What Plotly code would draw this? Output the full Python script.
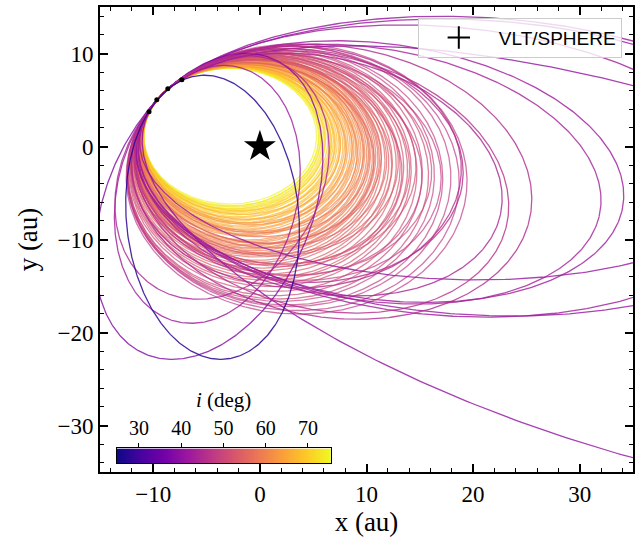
import numpy as np
import plotly.graph_objects as go
from plotly.colors import sample_colorscale

# ---- data ----
obs_x = [-10.4, -9.67, -8.64, -7.32]
obs_y = [3.75, 5.04, 6.22, 7.18]
obs_err = [0.12, 0.12, 0.12, 0.12]

# projected orbit ellipses: semi-axes a, b (au), orientation theta (deg), inclination (deg)
# large / eccentric orbits
big_a = [30.0, 29.0, 32.0, 50.0, 23.0, 22.0, 17.5, 15.5, 15.5, 17.0, 14.0, 13.5, 19.0, 18.0]
big_b = [14.0, 15.5, 16.0, 19.0, 13.7, 13.5, 12.5, 13.0, 12.5, 9.8, 8.5, 9.5, 14.5, 13.5]
big_th = [-2, -6, -4, -20, -10, -12, -18, -3, -8, 72, 80, 70, -14, -20]
big_inc = [41, 42, 41, 40, 42, 43, 44, 46, 46, 38, 42, 44, 45, 46]
# main family of near-circular projected orbits
fam_a = [16.0, 15.6, 15.2, 14.8, 14.4, 14.1, 13.8, 13.5, 13.2,
         13.0, 12.8, 12.6, 12.4, 12.2, 12.0, 11.8, 11.6, 11.5, 11.4, 11.3, 11.2, 11.1, 11.0, 10.9, 10.8,
         10.7, 10.6, 10.5, 10.4, 10.3, 10.2, 10.1, 10.0, 9.9, 9.8, 9.7, 9.6, 9.5, 9.4, 9.3,
         9.2, 9.1, 9.0, 8.9, 8.8, 8.7, 8.6, 8.55, 8.5, 8.4, 8.35, 8.3, 8.25, 8.2, 8.1]
fam_b = [14.5, 14.2, 14.0, 13.8, 13.6, 13.4, 13.2, 12.9, 12.6,
         12.4, 12.2, 12.0, 11.8, 11.6, 11.4, 11.2, 11.0, 10.9, 10.7, 10.6, 10.5, 10.4, 10.3, 10.2, 10.1,
         10.0, 9.9, 9.8, 9.7, 9.6, 9.4, 9.3, 9.2, 9.1, 9.0, 8.9, 8.8, 8.7, 8.6, 8.5,
         8.4, 8.3, 8.2, 8.1, 8.0, 7.9, 7.8, 7.8, 7.7, 7.6, 7.6, 7.5, 7.45, 7.4, 7.3]
fam_th = [-5, -8, -3, -7, -2, -5, 0, -4, -1,
          -3, 0, -6, -2, 1, -3, 0, -5, -1, -2, 2, 0, -4, -1, 1, -2,
          0, -3, 1, -1, -2, 2, 0, -4, -1, 1, -2, 0, -3, 2, -1,
          0, -2, 1, -3, 0, -1, 2, -2, 0, -3, 1, -1, 2, -2, 0]
fam_inc = [47, 47, 48, 48, 49, 50, 50, 51, 51,
           52, 52, 53, 53, 54, 54, 55, 55, 56, 56, 57, 57, 58, 58, 59, 59,
           60, 60, 61, 61, 62, 62, 63, 63, 64, 64, 65, 65, 66, 66, 67,
           68, 68, 69, 69, 70, 70, 71, 71, 72, 72, 73, 73, 74, 74, 75]
# tilted, slightly flatter members of the family
tilt_a = [14.5, 14.0, 13.6, 13.2, 12.9, 12.6, 12.3, 12.0, 11.7, 11.4, 11.1, 10.8, 10.5, 10.2,
          9.9, 9.6, 9.3, 9.0, 8.8]
tilt_b = [12.0, 11.8, 11.6, 11.3, 11.0, 10.8, 10.6, 10.3, 10.0, 9.8, 9.6, 9.3, 9.1, 8.9,
          8.6, 8.4, 8.2, 7.9, 7.7]
tilt_th = [-15, -12, -18, -10, -14, -20, -11, -16, -13, -9, -17, -12, -10, -14,
           -8, -12, -10, -9, -7]
tilt_inc = [48, 50, 49, 51, 52, 50, 53, 54, 55, 56, 55, 57, 58, 60, 62, 63, 65, 67, 69]
# low-inclination outlier
low_a = [15.3]
low_b = [8.1]
low_th = [94]
low_inc = [28]

cmin, cmax = 24.7, 75.4
P0 = np.array([-9.15, 5.63])
d = np.array([0.658, 0.753]); d = d / np.linalg.norm(d)
n_in = np.array([d[1], -d[0]])

def ellipse(a, b, th_deg):
    th = np.radians(th_deg)
    R = np.array([[np.cos(th), -np.sin(th)], [np.sin(th), np.cos(th)]])
    dp = R.T @ d
    t0 = np.arctan2(-dp[0] / a, dp[1] / b)
    p = R @ np.array([a * np.cos(t0), b * np.sin(t0)])
    if p @ n_in > 0:
        p = -p
    c = P0 - p
    s = np.linspace(0, 2 * np.pi, 500)
    pts = R @ np.vstack([a * np.cos(s), b * np.sin(s)])
    return c[0] + pts[0], c[1] + pts[1]

fig = go.Figure()

def add_orbits(A, B, TH, INC, op):
    for a, b, th, inc in zip(A, B, TH, INC):
        x, y = ellipse(a, b, th)
        col = sample_colorscale('Plasma', [(inc - cmin) / (cmax - cmin)])[0]
        fig.add_trace(go.Scatter(x=x, y=y, mode='lines', line=dict(color=col, width=1.3),
                                 opacity=op, showlegend=False, hoverinfo='skip'))

# high-inclination (small) orbits first, so lower-inclination ones overlay them
add_orbits(fam_a[::-1], fam_b[::-1], fam_th[::-1], fam_inc[::-1], 0.68)
add_orbits(tilt_a[::-1], tilt_b[::-1], tilt_th[::-1], tilt_inc[::-1], 0.68)
add_orbits(big_a, big_b, big_th, big_inc, 0.8)
add_orbits(low_a, low_b, low_th, low_inc, 0.85)

# star
fig.add_trace(go.Scatter(x=[0], y=[0], mode='markers', showlegend=False,
                         marker=dict(symbol='star', size=24, color='black')))
# observations
fig.add_trace(go.Scatter(x=obs_x, y=obs_y, mode='markers', showlegend=False,
                         marker=dict(size=5, color='black'),
                         error_x=dict(array=obs_err, color='black', thickness=1, width=0),
                         error_y=dict(array=obs_err, color='black', thickness=1, width=0)))
fig.add_trace(go.Scatter(x=[None], y=[None], mode='markers', name='VLT/SPHERE',
                         marker=dict(symbol='cross-thin', size=22, color='black',
                                     line=dict(width=2, color='black'))))

# colour bar as an inset heatmap axis
cb_vals = np.linspace(cmin, cmax, 300)
fig.add_trace(go.Heatmap(x=cb_vals, y=[0], z=[cb_vals], colorscale='Plasma', zmin=cmin, zmax=cmax,
                         showscale=False, xaxis='x2', yaxis='y2', hoverinfo='skip'))

serif = 'Liberation Serif'
axis_common = dict(showline=True, linewidth=2, linecolor='black', mirror='ticks',
                   ticks='inside', ticklen=8, tickwidth=1.5, tickcolor='black',
                   showgrid=False, zeroline=False,
                   tickfont=dict(size=23, family=serif, color='black'),
                   minor=dict(ticks='inside', ticklen=4, tickwidth=1.2, dtick=2, tickcolor='black', showgrid=False))
fig.update_layout(
    xaxis=dict(range=[-15, 35], dtick=10, domain=[0, 1],
               title=dict(text='x (au)', font=dict(size=27, family=serif, color='black'), standoff=2),
               **axis_common),
    yaxis=dict(range=[-35, 15], dtick=10, domain=[0, 1],
               title=dict(text='y (au)', font=dict(size=27, family=serif, color='black'), standoff=12),
               **axis_common),
    xaxis2=dict(domain=[0.031, 0.433], anchor='y2', range=[cmin, cmax], side='top',
                tickvals=[30, 40, 50, 60, 70], ticks='outside', ticklen=4, tickwidth=1, tickcolor='black',
                showline=True, mirror=True, linewidth=1, linecolor='black', showgrid=False, zeroline=False,
                tickfont=dict(size=20, family=serif, color='black'),
                title=dict(text='<i>i</i> (deg)', font=dict(size=21, family=serif, color='black'), standoff=4)),
    yaxis2=dict(domain=[0.0186, 0.0507], anchor='x2', range=[-0.5, 0.5], showticklabels=False,
                ticks='', showline=True, mirror=True, linewidth=1, linecolor='black',
                showgrid=False, zeroline=False),
    width=643, height=543, margin=dict(l=100, r=10, t=5, b=71),
    plot_bgcolor='white', paper_bgcolor='white',
    legend=dict(x=0.979, xanchor='right', y=0.977, yanchor='top', itemwidth=70,
                bordercolor='#cccccc', borderwidth=1, bgcolor='rgba(255,255,255,0.8)',
                font=dict(size=19, family='Liberation Sans', color='black')))
fig.write_html('out.html')
